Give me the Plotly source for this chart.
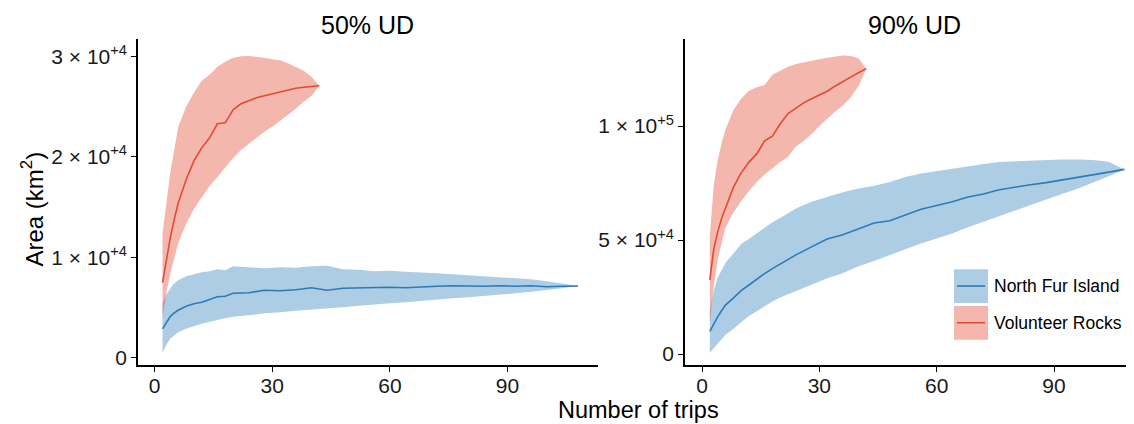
import plotly.graph_objects as go

# ---------------- data ----------------
trips_nfi = [2, 3, 4, 5, 6, 8, 10, 12, 14, 16, 18, 20, 24, 28, 32, 36, 40, 44, 48, 52,
             56, 60, 64, 68, 72, 76, 80, 84, 88, 92, 96, 100, 104, 108]
trips_vr = [2, 3, 4, 5, 6, 8, 10, 12, 14, 16, 18, 20, 22, 24, 26, 28, 30, 32, 34, 36, 38, 40, 42]

# 50% UD - North Fur Island
ud50_nfi_mean = [2850, 3500, 4100, 4450, 4700, 5100, 5350, 5500, 5800, 6050, 6100, 6400, 6450, 6700,
                 6650, 6750, 6950, 6700, 6900, 6950, 6950, 7000, 6950, 7050, 7100, 7150, 7100, 7100,
                 7150, 7100, 7150, 7050, 7100, 7130]
ud50_nfi_hi = [5400, 6300, 6900, 7400, 7700, 8100, 8300, 8500, 8600, 8800, 8700, 9100, 9000, 8900,
               9000, 8950, 9100, 9150, 8800, 8750, 8600, 8650, 8550, 8500, 8400, 8300, 8200, 8100,
               8000, 7900, 7800, 7600, 7400, 7130]
ud50_nfi_lo = [500, 1300, 1900, 2200, 2500, 2850, 3100, 3350, 3550, 3750, 3900, 4050, 4200, 4400,
               4500, 4650, 4800, 4900, 5000, 5150, 5300, 5400, 5500, 5650, 5750, 5900, 6000, 6150,
               6250, 6400, 6550, 6700, 6900, 7130]

# 50% UD - Volunteer Rocks
ud50_vr_mean = [7450, 9700, 12000, 13800, 15400, 17700, 19600, 20900, 21900, 23300, 23400, 24700,
                25300, 25600, 25900, 26100, 26300, 26500, 26650, 26850, 26950, 27050, 27100]
ud50_vr_hi = [12400, 15500, 18500, 20700, 23000, 25000, 26400, 27600, 28200, 29000, 29500, 29900,
              30050, 30070, 30000, 29900, 29750, 29650, 29350, 29000, 28600, 28000, 27100]
ud50_vr_lo = [3900, 6500, 8400, 9900, 11400, 13300, 14800, 15900, 17100, 18000, 18900, 19900,
              20700, 21300, 21900, 22500, 23000, 23600, 24200, 24800, 25500, 26100, 27100]

# 90% UD - North Fur Island
ud90_nfi_mean = [10000, 13500, 16300, 19000, 21500, 24500, 27800, 30300, 33000, 35300, 37500, 39500,
                 43500, 47000, 50500, 52300, 55000, 57500, 58500, 61000, 63500, 65200, 66800, 68900,
                 70200, 72100, 73300, 74300, 75200, 76300, 77300, 78700, 79800, 81000]
ud90_nfi_hi = [19000, 28000, 33500, 36500, 40000, 44000, 48300, 50500, 53000, 55600, 57800, 59700,
               63900, 66800, 68900, 71000, 72600, 73800, 75500, 77700, 79200, 80300, 81300, 82500,
               83400, 84300, 84600, 84900, 85100, 85300, 85300, 85100, 84400, 81000]
ud90_nfi_lo = [600, 2800, 4700, 6500, 8500, 11000, 14000, 16700, 18900, 20800, 23000, 24800,
               27700, 30500, 33200, 35400, 38500, 40800, 43300, 46000, 48500, 50800, 52900, 55600,
               58000, 60500, 63000, 65300, 67800, 70200, 72500, 75300, 78000, 81000]

# 90% UD - Volunteer Rocks
ud90_vr_mean = [32500, 46000, 53500, 59500, 64000, 73000, 79500, 84200, 87800, 93500, 95600, 101000,
                105500, 107700, 110200, 112000, 113500, 115300, 117500, 119600, 121500, 123400, 125200]
ud90_vr_hi = [52000, 74000, 85000, 92500, 98500, 107000, 112000, 115500, 117000, 118000, 122500,
              124300, 126000, 127200, 128000, 128700, 129300, 130000, 130500, 131000, 130800,
              129800, 125200]
ud90_vr_lo = [14000, 30000, 41500, 49000, 55500, 62000, 67000, 71500, 75500, 78800, 81700, 84200,
              86500, 91000, 93500, 96500, 100000, 103300, 106300, 109000, 112500, 117500, 125200]

panel_titles = ["50% UD", "90% UD"]
series_names = ["North Fur Island", "Volunteer Rocks"]
x_ticks = [0, 30, 60, 90]
y1_ticks = [0, 10000, 20000, 30000]
y1_text = ["0", "1 × 10<sup>+4</sup>", "2 × 10<sup>+4</sup>", "3 × 10<sup>+4</sup>"]
y2_ticks = [0, 50000, 100000]
y2_text = ["0", "5 × 10<sup>+4</sup>", "1 × 10<sup>+5</sup>"]

# ---------------- styles ----------------
line_col = {"North Fur Island": "#2c7bb6", "Volunteer Rocks": "#e34a33"}
fill_col = {"North Fur Island": "rgba(49,130,189,0.40)", "Volunteer Rocks": "rgba(227,74,51,0.40)"}
FONT = "Liberation Sans, Arial, Helvetica, sans-serif"

fig = go.Figure()

panels = [
    ("x", "y", {"North Fur Island": (ud50_nfi_mean, ud50_nfi_lo, ud50_nfi_hi),
                "Volunteer Rocks": (ud50_vr_mean, ud50_vr_lo, ud50_vr_hi)}),
    ("x2", "y2", {"North Fur Island": (ud90_nfi_mean, ud90_nfi_lo, ud90_nfi_hi),
                  "Volunteer Rocks": (ud90_vr_mean, ud90_vr_lo, ud90_vr_hi)}),
]
xs = {"North Fur Island": trips_nfi, "Volunteer Rocks": trips_vr}

for xa, ya, d in panels:
    for name in series_names:
        mean, lo, hi = d[name]
        x = xs[name]
        fig.add_trace(go.Scatter(
            x=list(x) + list(x)[::-1], y=list(hi) + list(lo)[::-1],
            fill="toself", fillcolor=fill_col[name], mode="lines",
            line=dict(width=0), hoverinfo="skip", showlegend=False,
            xaxis=xa, yaxis=ya))
    for name in series_names:
        mean, lo, hi = d[name]
        fig.add_trace(go.Scatter(
            x=xs[name], y=mean, mode="lines", name=name,
            line=dict(color=line_col[name], width=1.6), showlegend=False,
            xaxis=xa, yaxis=ya))

W, H = 1134, 424
ax_common = dict(showline=True, linecolor="black", linewidth=1.5, ticks="outside",
                 ticklen=5, tickwidth=1.3, tickcolor="black", showgrid=False, zeroline=False,
                 tickfont=dict(family=FONT, size=21, color="#1a1a1a"))

y_dom = [(H - 360) / H, (H - 31) / H]
fig.update_layout(
    width=W, height=H, margin=dict(l=0, r=0, t=0, b=0),
    paper_bgcolor="white", plot_bgcolor="white", showlegend=False,
    xaxis=dict(domain=[130 / W, 590 / W], range=[-4.26, 113.1], tickvals=x_ticks,
               anchor="y", ticklabelstandoff=-4, **ax_common),
    yaxis=dict(domain=y_dom, range=[-800, 31780], tickvals=y1_ticks, ticktext=y1_text,
               anchor="x", **ax_common),
    xaxis2=dict(domain=[677 / W, 1.0], range=[-4.35, 112.5], tickvals=x_ticks,
                anchor="y2", ticklabelstandoff=-4, **ax_common),
    yaxis2=dict(domain=y_dom, range=[-5000, 138300], tickvals=y2_ticks, ticktext=y2_text,
                anchor="x2", **ax_common),
)

# titles
ann = []
ann.append(dict(text=panel_titles[0], x=359 / W, y=(H - 17) / H, xref="paper", yref="paper",
                showarrow=False, xanchor="center", yanchor="middle",
                font=dict(family=FONT, size=25, color="black")))
ann.append(dict(text=panel_titles[1], x=906 / W, y=(H - 17) / H, xref="paper", yref="paper",
                showarrow=False, xanchor="center", yanchor="middle",
                font=dict(family=FONT, size=25, color="black")))
ann.append(dict(text="Number of trips", x=630 / W, y=(H - 405) / H, xref="paper", yref="paper",
                showarrow=False, xanchor="center", yanchor="middle",
                font=dict(family=FONT, size=23.5, color="black")))
ann.append(dict(text="Area (km<sup>2</sup>)", x=24 / W, y=(H - 203) / H, xref="paper", yref="paper",
                showarrow=False, xanchor="center", yanchor="middle", textangle=-90,
                font=dict(family=FONT, size=24, color="black")))

# legend (manual, ggplot-like keys)
shapes = []
key_tops = [263, 300]
for name, top in zip(series_names, key_tops):
    shapes.append(dict(type="rect", xref="paper", yref="paper",
                       x0=946 / W, x1=980 / W, y0=(H - top - 34) / H, y1=(H - top) / H,
                       fillcolor=fill_col[name], line=dict(width=0)))
    mid = top + 17
    shapes.append(dict(type="line", xref="paper", yref="paper",
                       x0=949 / W, x1=977 / W, y0=(H - mid) / H, y1=(H - mid) / H,
                       line=dict(color=line_col[name], width=1.6)))
    ann.append(dict(text=name, x=984 / W, y=(H - mid) / H, xref="paper", yref="paper",
                    showarrow=False, xanchor="left", yanchor="middle",
                    font=dict(family=FONT, size=17.5, color="black")))

fig.update_layout(annotations=ann, shapes=shapes)
fig.write_html("out.html")
